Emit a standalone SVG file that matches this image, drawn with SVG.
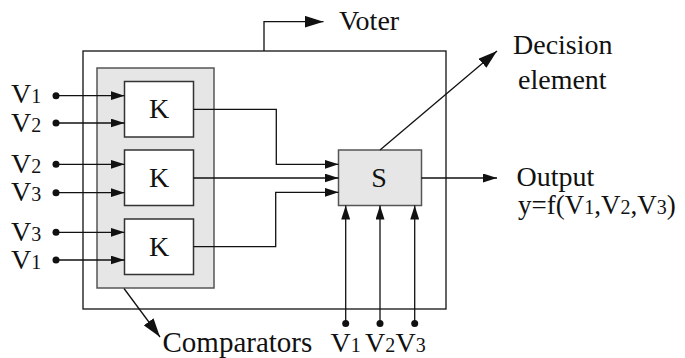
<svg xmlns="http://www.w3.org/2000/svg" width="685" height="358" viewBox="0 0 685 358">
<style>
text{font-family:'Liberation Serif','Times New Roman',Times,'DejaVu Serif',serif;font-size:28px;fill:#111}
.s{font-size:20px}
.ln{fill:none;stroke:#111;stroke-width:1.3}
.box{fill:#fff;stroke:#333;stroke-width:1.5}
.gbox{fill:#e6e6e6;stroke:#555;stroke-width:1.5}
.dot{fill:#111}
</style>
<defs>
<marker id="a" markerUnits="userSpaceOnUse" markerWidth="14" markerHeight="9" refX="14" refY="4.5" orient="auto"><path d="M0,0 L14,4.5 L0,9 z" fill="#111"/></marker>
<marker id="b" markerUnits="userSpaceOnUse" markerWidth="19" markerHeight="12" refX="19" refY="6" orient="auto"><path d="M0,0 L19,6 L0,12 z" fill="#111"/></marker>
</defs>
<g id="voter"><rect x="83" y="51" width="363" height="258" fill="#fff" stroke="#111" stroke-width="1.3"/></g>
<g id="comparators"><rect class="gbox" x="97" y="68" width="117" height="220"/></g>
<g id="k1"><rect class="box" x="124.5" y="81.5" width="69" height="55.5"/><text x="159" y="118" text-anchor="middle">K</text></g>
<g id="k2"><rect class="box" x="124.5" y="150" width="69" height="55.5"/><text x="159" y="187" text-anchor="middle">K</text></g>
<g id="k3"><rect class="box" x="124.5" y="219" width="69" height="55.5"/><text x="159" y="256" text-anchor="middle">K</text></g>
<g id="s"><rect class="gbox" x="338.5" y="150" width="83" height="55.5" stroke="#333"/><text x="379" y="187" text-anchor="middle">S</text></g>
<g id="connectors">
<g class="dot">
<circle cx="56" cy="95.7" r="3.5"/><circle cx="56" cy="123" r="3.5"/><circle cx="56" cy="164.3" r="3.5"/><circle cx="56" cy="192.7" r="3.5"/><circle cx="56" cy="232.3" r="3.5"/><circle cx="56" cy="260" r="3.5"/>
<circle cx="345.7" cy="323.5" r="3.5"/><circle cx="380" cy="323.5" r="3.5"/><circle cx="414.7" cy="323.5" r="3.5"/>
</g>
<path class="ln" d="M56,95.7 H124.5" marker-end="url(#a)"/>
<path class="ln" d="M56,123 H124.5" marker-end="url(#a)"/>
<path class="ln" d="M56,164.3 H124.5" marker-end="url(#a)"/>
<path class="ln" d="M56,192.7 H124.5" marker-end="url(#a)"/>
<path class="ln" d="M56,232.3 H124.5" marker-end="url(#a)"/>
<path class="ln" d="M56,260 H124.5" marker-end="url(#a)"/>
<path class="ln" d="M193.5,109.3 H276.3 V164.3 H338.5" marker-end="url(#a)"/>
<path class="ln" d="M193.5,178 H338.5" marker-end="url(#a)"/>
<path class="ln" d="M193.5,246.7 H275.7 V192.3 H338.5" marker-end="url(#a)"/>
<path class="ln" d="M345.7,323.5 V205.5" marker-end="url(#a)"/>
<path class="ln" d="M380,323.5 V205.5" marker-end="url(#a)"/>
<path class="ln" d="M414.7,323.5 V205.5" marker-end="url(#a)"/>
<path class="ln" d="M421.5,178 H497" marker-end="url(#a)"/>
<path class="ln" d="M380,150 L497,51" marker-end="url(#b)"/>
<path class="ln" d="M264,51 V21.7 H323.5" marker-end="url(#b)"/>
<path class="ln" d="M124,288.5 L160,337" marker-end="url(#b)"/>
</g>
<g id="labels">
<text x="11" y="103">V<tspan class="s">1</tspan></text>
<text x="11" y="132">V<tspan class="s">2</tspan></text>
<text x="11" y="172.5">V<tspan class="s">2</tspan></text>
<text x="11" y="201">V<tspan class="s">3</tspan></text>
<text x="11" y="240.5">V<tspan class="s">3</tspan></text>
<text x="11" y="269">V<tspan class="s">1</tspan></text>
<text x="339" y="30">Voter</text>
<text x="513" y="54">Decision</text>
<text x="518" y="89">element</text>
<text x="516.5" y="186">Output</text>
<text x="518" y="214" style="font-size:27px">y=f(V<tspan class="s">1</tspan>,V<tspan class="s">2</tspan>,V<tspan class="s">3</tspan>)</text>
<text x="162.5" y="351.5" style="font-size:29px">Comparators</text>
<text x="330.5" y="351.5">V<tspan class="s">1</tspan></text>
<text x="365" y="351.5">V<tspan class="s">2</tspan></text>
<text x="395.5" y="351.5">V<tspan class="s">3</tspan></text>
</g>
</svg>
